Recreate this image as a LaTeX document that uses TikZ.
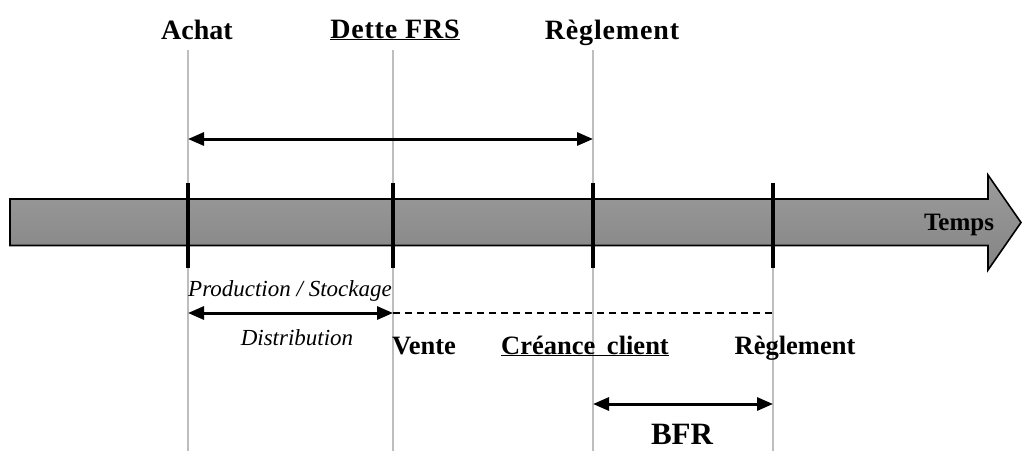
\documentclass[tikz,border=0pt]{standalone}
\usepackage{fontspec}
\setmainfont{Liberation Serif}
\newfontfamily\widefont[LetterSpace=3]{Liberation Serif}
\usetikzlibrary{arrows.meta}
\definecolor{guide}{RGB}{190,190,190}
\definecolor{bartop}{RGB}{156,156,156}
\definecolor{barbot}{RGB}{132,132,132}
\tikzset{
  guideline/.style={draw=guide, line width=1.5pt},
  tick/.style={draw=black, line width=4pt},
  span/.style={draw=black, line width=3pt,
    {Triangle[length=16pt,width=13pt]}-{Triangle[length=16pt,width=13pt]}},
  toplabel/.style={font=\bfseries\fontsize{28}{32}\selectfont, anchor=base, inner sep=0pt},
  lowlabel/.style={font=\bfseries\fontsize{26.5}{30}\selectfont, anchor=base, inner sep=0pt},
  phase/.style={font=\itshape\fontsize{23}{27}\selectfont, anchor=base, inner sep=0pt},
}
\begin{document}
\begin{tikzpicture}[x=1pt,y=-1pt]
\useasboundingbox (0,0) rectangle (1022,451);

% vertical guides
\draw[guideline] (188,50) -- (188,451);
\draw[guideline] (393,50) -- (393,451);
\draw[guideline] (593,50) -- (593,451);
\draw[guideline] (773,268) -- (773,451);

% time arrow
\shade[top color=bartop, bottom color=barbot, draw=black, line width=1.6pt]
  (10,199) -- (988,199) -- (988,175) -- (1021,222.5) -- (988,270) -- (988,245.5) -- (10,245.5) -- cycle;
\node[font=\bfseries\fontsize{25}{29}\selectfont, anchor=base, inner sep=0pt] (temps) at (959,230) {Temps};

% event ticks
\draw[tick] (188,183) -- (188,268);
\draw[tick] (393,183) -- (393,268);
\draw[tick] (593,183) -- (593,268);
\draw[tick] (773,183) -- (773,268);

% upper labels
\node[toplabel] (achat) at (197,39) {Achat};
\node[toplabel] (dette) at (395,38) {\underline{\widefont Dette FRS}};
\node[toplabel] (regl1) at (612,39) {{\widefont Règlement}};

% supplier credit span
\coordinate (s1) at (188,139);
\coordinate (s2) at (593,139);
\draw[span] (s1) -- (s2);

% production / distribution span
\node[phase] (prod) at (290,296) {Production / Stockage};
\node[phase] (distr) at (297,345) {Distribution};
\coordinate (p1) at (188,313);
\coordinate (p2) at (393,313);
\coordinate (p3) at (773,313);
\draw[span] (p1) -- (p2);
\draw[line width=1.3pt, dash pattern=on 7pt off 5pt] (p2) -- (p3);

% lower labels
\node[lowlabel] (vente) at (424,354) {Vente};
\node[lowlabel] (creance) at (585,354) {\underline{Créance\hspace{5pt} client}};
\node[lowlabel] (regl2) at (795,354) {Règlement};

% working capital span
\coordinate (b1) at (593,404);
\coordinate (b2) at (773,404);
\draw[span] (b1) -- (b2);
\node[font=\bfseries\fontsize{31}{35}\selectfont, anchor=base, inner sep=0pt] (bfr) at (682,444) {BFR};
\end{tikzpicture}
\end{document}
